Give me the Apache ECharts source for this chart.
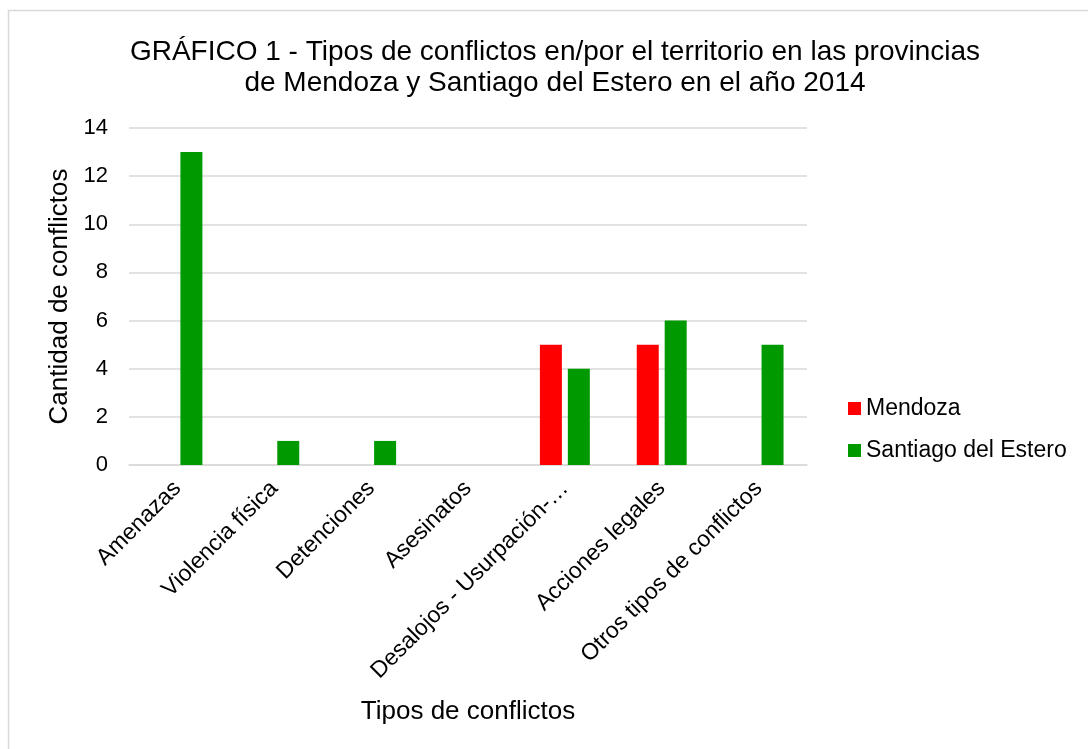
<!DOCTYPE html>
<html>
<head>
<meta charset="utf-8">
<script src="https://cdn.jsdelivr.net/npm/echarts@6/dist/echarts.min.js"></script>
<style>
  html, body { margin: 0; padding: 0; background: #fff; }
  #chart { width: 1088px; height: 749px; }
</style>
</head>
<body>
<div id="chart"></div>
<script>
// datos
const categorias = ['Amenazas', 'Violencia física', 'Detenciones', 'Asesinatos', 'Desalojos - Usurpación-…', 'Acciones legales', 'Otros tipos de conflictos']
const mendoza = [0, 0, 0, 0, 5, 5, 0]
const santiago = [13, 1, 1, 0, 4, 6, 5]
const yTicks = [0, 2, 4, 6, 8, 10, 12, 14]

const font = 'Liberation Sans, Arial, sans-serif'
const chart = echarts.init(document.getElementById('chart'))

const option = {
    backgroundColor: '#fff',
    textStyle: { fontFamily: font },
    graphic: [
        {
            type: 'rect',
            shape: { x: 8.5, y: 10.5, width: 1200, height: 900 },
            style: { fill: 'none', stroke: '#d9d9d9', lineWidth: 1.5 },
            silent: true
        }
    ],
    title: {
        text: 'GRÁFICO 1 - Tipos de conflictos en/por el territorio en las provincias\nde Mendoza y Santiago del Estero en el año 2014',
        left: 550,
        top: 32,
        textAlign: 'center',
        textStyle: { fontSize: 28, fontWeight: 'normal', color: '#000', lineHeight: 31, fontFamily: font }
    },
    legend: {
        orient: 'vertical',
        left: 843,
        top: 392,
        itemWidth: 13,
        itemHeight: 13,
        itemGap: 19,
        icon: 'rect',
        textStyle: { fontSize: 23, color: '#000', fontFamily: font },
        data: ['Mendoza', 'Santiago del Estero']
    },
    grid: { left: 129, right: 281, top: 128, bottom: 284 },
    xAxis: {
        type: 'category',
        data: categorias,
        name: 'Tipos de conflictos',
        nameLocation: 'middle',
        nameGap: 234,
        nameTextStyle: { fontSize: 26, color: '#000', fontFamily: font },
        axisLine: { show: true, lineStyle: { color: '#d9d9d9', width: 1.5 } },
        axisTick: { show: false },
        axisLabel: {
            rotate: 45,
            interval: 0,
            fontSize: 23,
            color: '#000',
            margin: 20,
            fontFamily: font
        }
    },
    yAxis: {
        type: 'value',
        min: yTicks[0],
        max: yTicks[yTicks.length - 1],
        interval: 2,
        name: 'Cantidad de conflictos',
        nameLocation: 'middle',
        nameGap: 56,
        nameTextStyle: { fontSize: 26, color: '#000', fontFamily: font },
        axisLine: { show: false },
        axisTick: { show: false },
        axisLabel: { fontSize: 22, color: '#000', margin: 21, fontFamily: font },
        splitLine: { lineStyle: { color: '#d9d9d9', width: 1.5 } }
    },
    series: [
        {
            name: 'Mendoza',
            type: 'bar',
            data: mendoza,
            barWidth: 22,
            barGap: '27%',
            itemStyle: { color: '#ff0000' }
        },
        {
            name: 'Santiago del Estero',
            type: 'bar',
            data: santiago,
            barWidth: 22,
            itemStyle: { color: '#009900' }
        }
    ]
}
chart.setOption(option)
</script>
</body>
</html>
